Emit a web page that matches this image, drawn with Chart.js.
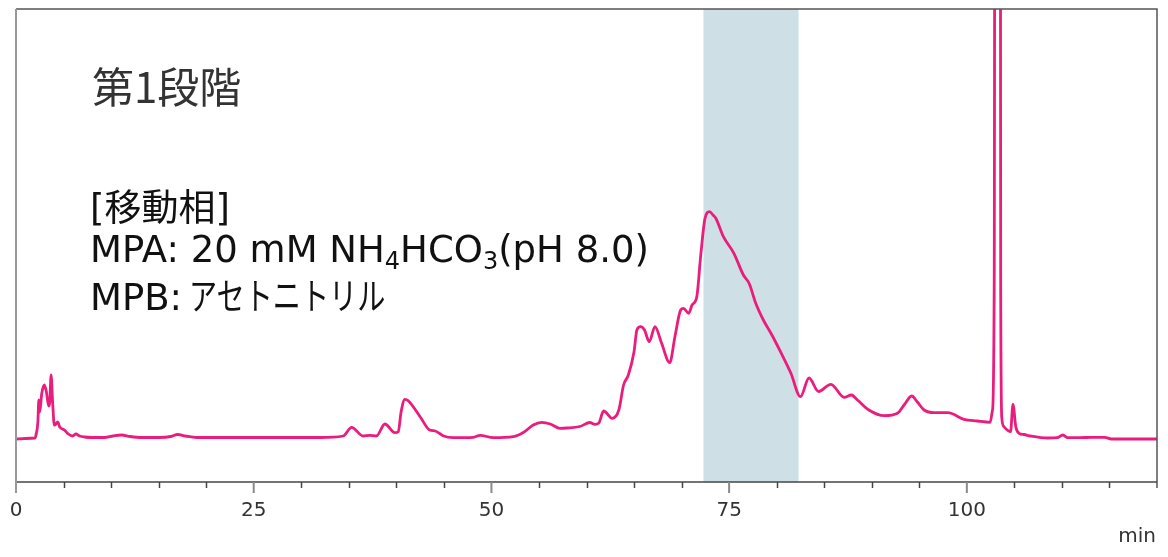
<!DOCTYPE html>
<html>
<head>
<meta charset="utf-8">
<script src="https://cdn.jsdelivr.net/npm/chart.js@4"></script>
<style>
  html, body { margin: 0; padding: 0; background: #fff; }
  #wrap { position: relative; width: 1168px; height: 557px; overflow: hidden; }
  canvas { position: absolute; left: 0; top: 0; }
  .note { position: absolute; white-space: nowrap; }
  #title { left: 92px; top: 60px; font-family: "Noto Sans CJK JP", sans-serif; font-size: 42px; line-height: 50px; color: #333; }
  #mp { left: 90px; top: 179px; font-family: "DejaVu Sans", "Noto Sans CJK JP", sans-serif; font-size: 37px; line-height: 45px; color: #111; }
  #mp sub { font-size: 24px; vertical-align: -7px; line-height: 0; }
  #mp .l1 { position: relative; top: 4px; }
  #mp .kana { display: inline-block; margin-left: -5px; transform: scaleX(0.76); transform-origin: left center; font-family: "Noto Sans CJK JP", sans-serif; font-size: 37px; }
  #mp .cjk { font-family: "Noto Sans CJK JP", sans-serif; font-size: 37px; }
  #unit { right: 12px; top: 523px; font-size: 20px; line-height: 24px; color: #333; font-family: "DejaVu Sans", sans-serif; }
</style>
</head>
<body>
<div id="wrap">
  <canvas id="c" width="1168" height="557"></canvas>
  <div class="note" id="title">第1段階</div>
  <div class="note" id="mp"><span class="l1">[<span class="cjk">移動相</span>]</span><br>MPA: 20 mM NH<sub>4</sub>HCO<sub>3</sub>(pH 8.0)<br>MPB: <span class="kana">アセトニトリル</span></div>
  <div class="note" id="unit">min</div>
</div>
<script>
// retention time (min)
const times = [0,1,2.0,2.1,2.3,2.4,2.5,2.7,2.98,3.2,3.43,3.55,3.69,3.85,4.03,4.2,4.38,4.6,5.09,5.5,5.96,6.3,6.7,7.2,8,9.3,10.2,11.1,12,13.2,15,16.3,17.0,17.8,19,22,26,29,32,34.4,35.3,36.5,37.2,37.9,38.8,39.85,40.2,40.5,40.9,41.25,42.5,43.5,44.1,44.9,46,48.1,48.8,50.2,52.3,53.4,54.4,55.3,56.2,57.2,57.9,59.3,60.35,60.9,61.3,61.8,62.7,63.4,63.9,64.4,65.0,65.3,65.7,66.1,66.6,67.2,67.9,68.75,69.3,69.9,70.2,70.75,71.1,71.6,72.0,72.4,72.7,72.95,73.3,73.6,74.4,75.5,76.5,77.1,77.8,78.6,79.5,80.4,81.5,82.5,83.4,84.4,85.7,87.1,87.85,88.5,89.7,91.3,92.7,93.4,94.2,94.8,95.5,96.6,98.0,99.7,101.1,102.45,102.7,102.88,103.22,103.56,103.68,103.9,104.6,104.85,105.15,105.5,106.0,106.7,108.5,109.5,110.1,110.6,112.5,114.5,115.2,120];
// detector signal (arbitrary units)
const signal = [43,43.5,44,47,60,82,70,88,97,90,76,80,107,80,57,58,60,55,52,48,46,48,46,45,44.5,44.5,46,47,45.5,44.5,44.5,45.5,47.5,46,44.5,44.5,44.5,44.5,44.5,46,54.7,46,46.7,46,58,49.3,50.3,70,82.7,81.3,65.3,52,51,46.3,44.3,44.7,46.7,44.3,45.3,49.7,57,59.7,58,53.7,54,55.5,59.5,57.7,59,71,63.7,72,97,107,130.3,152,155.3,152,140.3,155.3,138.7,119.3,145.3,172,173.7,168.7,177,185.3,225.3,260.3,269.3,270.3,267,263.7,245.3,228.7,207,198.7,178.7,162,147,130.3,108.7,85.3,104,90.5,97.7,84.7,87,82,72,66.3,68.7,77,86,80,72,69.3,69.3,62.7,61,59.7,72,200,5000,200,64,55.3,50.3,77.7,55.3,48.7,47.5,46,44,44.3,47,44.3,44.5,44.7,43,43];
// fraction collection window (min)
const shadeRange = [72.3, 82.3];
// axis
const xMin = 0, xMax = 120, minorStep = 5, majorStep = 25;
const yMin = 0, yMax = 473;

const points = times.map((t, i) => ({ x: t, y: signal[i] }));

const framePlugin = {
  id: 'frame',
  beforeDatasetsDraw(chart) {
    const { ctx, chartArea: a, scales: { x } } = chart;
    const x0 = x.getPixelForValue(shadeRange[0]);
    const x1 = x.getPixelForValue(shadeRange[1]);
    ctx.save();
    ctx.fillStyle = '#cfdfe6';
    ctx.fillRect(x0, a.top, x1 - x0, a.bottom - a.top);
    ctx.restore();
  },
  afterDraw(chart) {
    const { ctx, chartArea: a, scales: { x } } = chart;
    ctx.save();
    ctx.strokeStyle = '#555';
    ctx.lineWidth = 1.5;
    ctx.beginPath();
    ctx.moveTo(a.left, a.top); ctx.lineTo(a.right, a.top); ctx.lineTo(a.right, a.bottom + 6);
    ctx.stroke();
    ctx.strokeStyle = '#444';
    ctx.beginPath();
    ctx.moveTo(a.left, a.bottom); ctx.lineTo(a.right, a.bottom);
    ctx.stroke();
    for (let v = xMin + minorStep; v < xMax; v += minorStep) {
      if (v % majorStep === 0) continue;
      const px = Math.round(x.getPixelForValue(v)) + 0.5;
      ctx.strokeStyle = '#444'; ctx.lineWidth = 1.5;
      ctx.beginPath(); ctx.moveTo(px, a.bottom); ctx.lineTo(px, a.bottom + 6); ctx.stroke();
    }
    for (let v = majorStep; v < xMax; v += majorStep) {
      const px = x.getPixelForValue(v);
      ctx.strokeStyle = '#8a8a8a'; ctx.lineWidth = 2;
      ctx.beginPath(); ctx.moveTo(px, a.bottom); ctx.lineTo(px, a.bottom + 11); ctx.stroke();
    }
    ctx.strokeStyle = '#999';
    ctx.lineWidth = 2;
    ctx.beginPath();
    ctx.moveTo(a.left, a.top); ctx.lineTo(a.left, a.bottom + 11);
    ctx.stroke();
    ctx.restore();
  }
};

new Chart(document.getElementById('c'), {
  type: 'line',
  data: {
    datasets: [{
      data: points,
      borderColor: '#ea1c7c',
      borderWidth: 2.8,
      pointRadius: 0,
      fill: false,
      cubicInterpolationMode: 'monotone'
    }]
  },
  options: {
    responsive: false,
    animation: false,
    events: [],
    layout: { padding: { left: 16, right: 11, top: 9, bottom: 0 } },
    plugins: { legend: { display: false }, tooltip: { enabled: false } },
    scales: {
      x: {
        type: 'linear',
        min: xMin, max: xMax,
        grid: { display: false },
        border: { display: false },
        ticks: {
          stepSize: minorStep,
          autoSkip: false,
          maxRotation: 0,
          padding: 9,
          color: '#333',
          font: { family: 'DejaVu Sans', size: 20 },
          callback: (v) => (v % majorStep === 0 && v < xMax) ? String(v) : ''
        },
        afterFit: (s) => { s.height = 75; }
      },
      y: { display: false, min: yMin, max: yMax }
    }
  },
  plugins: [framePlugin]
});
</script>
</body>
</html>
